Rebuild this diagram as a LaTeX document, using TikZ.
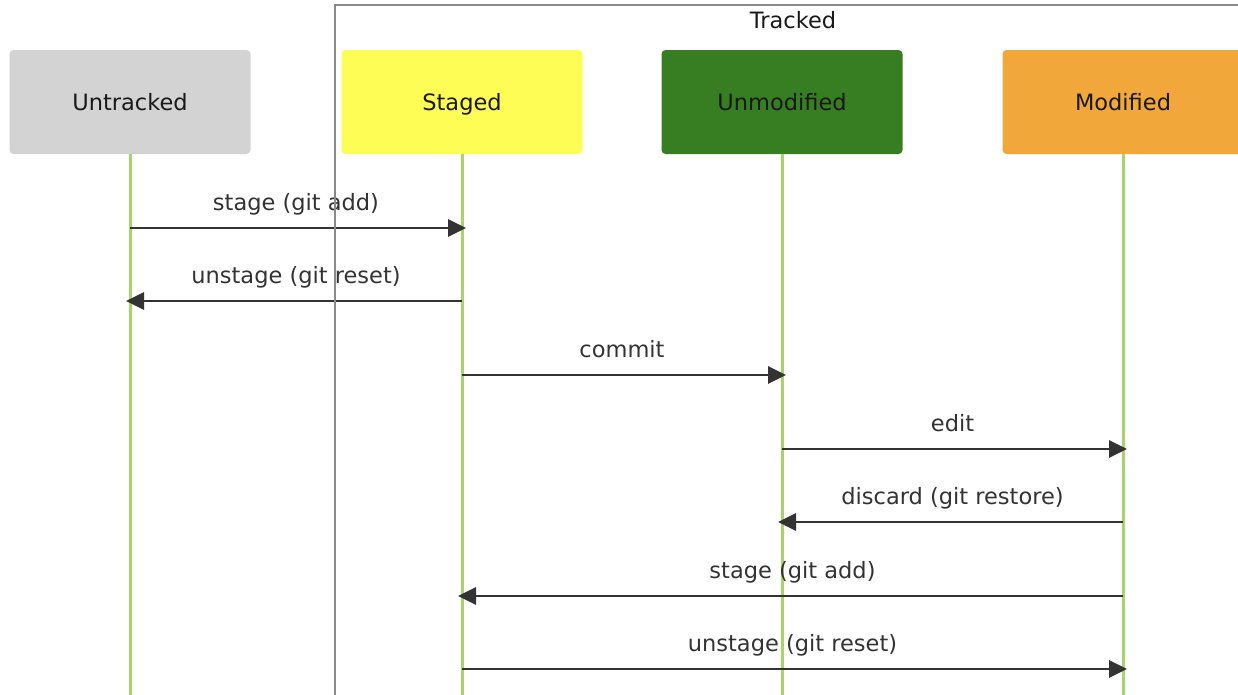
\documentclass[tikz,border=0pt]{standalone}
\usepackage{fontspec}
\setmainfont{DejaVu Sans}
\usetikzlibrary{arrows.meta}
\definecolor{untrackedgray}{HTML}{D3D3D3}
\definecolor{stagedyellow}{HTML}{FDFD56}
\definecolor{unmodgreen}{HTML}{377E22}
\definecolor{modorange}{HTML}{F2A73B}
\definecolor{lifegreen}{HTML}{A8D46A}
\definecolor{msggray}{HTML}{333333}
\definecolor{framegray}{HTML}{8A8A8A}
\begin{document}
\begin{tikzpicture}[x=1pt,y=-1pt,
    actor/.style={rounded corners=4pt, minimum width=241pt, minimum height=104pt,
        inner sep=0pt, text height=17pt, text depth=0pt,
        text=black!90, font=\fontsize{22.5}{27}\selectfont},
    life/.style={line width=3pt, draw=lifegreen},
    msg/.style={line width=2.8pt, draw=msggray, shorten >=-4pt,
        -{Triangle[length=18pt,width=17pt]}},
    msglabel/.style={midway, yshift=24pt, text height=17pt, text depth=5pt,
        text=msggray, font=\fontsize{22.5}{27}\selectfont}]

    \useasboundingbox (0,0) rectangle (1238,694);
    \clip (0,0) rectangle (1238,694);

    %participants
    \node[actor, fill=untrackedgray] (untracked) at (130,102) {Untracked};
    \node[actor, fill=stagedyellow] (staged) at (462,102) {Staged};
    \node[actor, fill=unmodgreen] (unmodified) at (782,102) {Unmodified};
    \node[actor, fill=modorange] (modified) at (1123,102) {Modified};

    %lifelines
    \coordinate (untrackedend) at (130,700);
    \coordinate (stagedend) at (462,700);
    \coordinate (unmodifiedend) at (782,700);
    \coordinate (modifiedend) at (1123,700);

    \draw[life] (untracked.south) -- (untrackedend);
    \draw[life] (staged.south) -- (stagedend);
    \draw[life] (unmodified.south) -- (unmodifiedend);
    \draw[life] (modified.south) -- (modifiedend);

    %messages
    \draw[msg] (untracked |- 0,228) -- node[msglabel] {stage (git add)} (staged |- 0,228);
    \draw[msg] (staged |- 0,301) -- node[msglabel] {unstage (git reset)} (untracked |- 0,301);
    \draw[msg] (staged |- 0,375) -- node[msglabel] {commit} (unmodified |- 0,375);
    \draw[msg] (unmodified |- 0,449) -- node[msglabel] {edit} (modified |- 0,449);
    \draw[msg] (modified |- 0,522) -- node[msglabel] {discard (git restore)} (unmodified |- 0,522);
    \draw[msg] (modified |- 0,596) -- node[msglabel] {stage (git add)} (staged |- 0,596);
    \draw[msg] (staged |- 0,669) -- node[msglabel] {unstage (git reset)} (modified |- 0,669);

    %tracked frame
    \coordinate (framecorner) at (335,5);
    \draw[line width=2pt, draw=framegray] (1245,5) -- (framecorner) -- (335,700);
    \node[text=black!90, font=\fontsize{22.5}{27}\selectfont] (trackedlabel) at (793,20) {Tracked};

\end{tikzpicture}
\end{document}
